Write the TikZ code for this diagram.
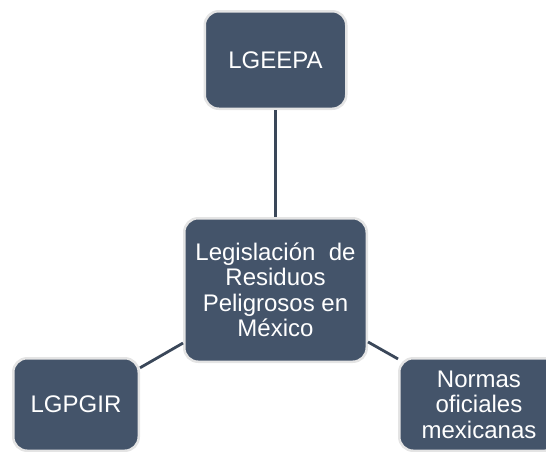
\documentclass[tikz,border=0pt]{standalone}
\usepackage{fontspec}
\setmainfont{Liberation Sans}
\definecolor{boxfill}{HTML}{44546A}
\definecolor{boxedge}{HTML}{E4E4E4}
\definecolor{linkcol}{HTML}{3A4759}
\tikzstyle{topic}=[rectangle,draw=boxedge,line width=2.5pt,fill=boxfill,rounded corners=14pt,text=white,font=\fontsize{24}{25.5}\selectfont,align=center,inner sep=0pt]
\tikzstyle{link}=[draw=linkcol,line width=2.8pt]

\begin{document}
\begin{tikzpicture}[x=1pt,y=-1pt]
  \useasboundingbox (0,0) rectangle (546,451);
  \clip (0,0) rectangle (546,451);
  \node[topic,minimum width=141.5pt,minimum height=97.5pt] (lgeepa) at (275.5,60) {LGEEPA};
  \node[topic,minimum width=182.5pt,minimum height=143.5pt] (ley) at (275.5,290) {Legislación\ \ de\\ Residuos\\ Peligrosos en\\ México};
  \node[topic,minimum width=125.5pt,minimum height=92.5pt] (lgpgir) at (76,404.5) {LGPGIR};
  \node[topic,minimum width=159.5pt,minimum height=92.5pt] (nom) at (479,404.5) {Normas\\ oficiales\\ mexicanas};

  \draw[link] (ley) -- (lgeepa);
  \draw[link] (ley) -- (lgpgir);
  \draw[link] (ley) -- (nom);
\end{tikzpicture}
\end{document}
